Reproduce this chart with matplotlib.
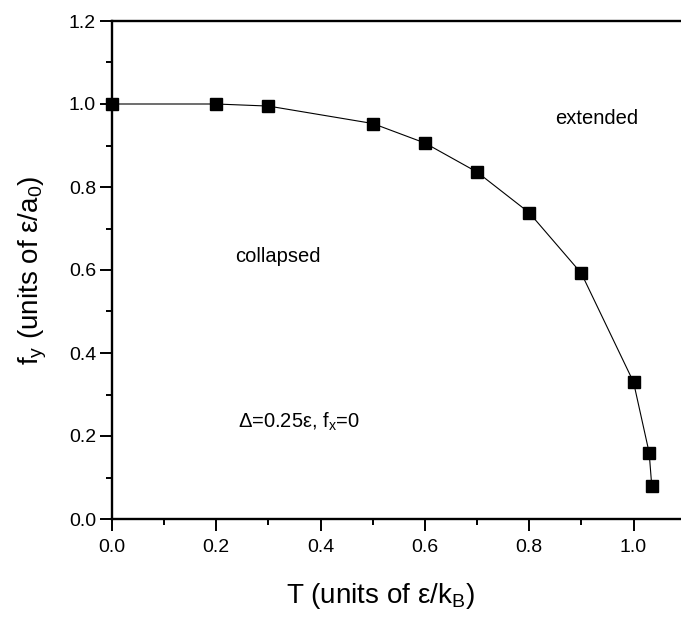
import matplotlib
matplotlib.use("Agg")
import matplotlib.pyplot as plt
from matplotlib.ticker import MultipleLocator

# data
temps = [0.0, 0.2, 0.3, 0.5, 0.6, 0.7, 0.8, 0.9, 1.0, 1.03, 1.035]
fy = [1.0, 1.0, 0.995, 0.953, 0.906, 0.836, 0.738, 0.592, 0.330, 0.160, 0.080]

x_ticks = [0.0, 0.2, 0.4, 0.6, 0.8, 1.0]
y_ticks = [0.0, 0.2, 0.4, 0.6, 0.8, 1.0, 1.2]

plt.rcParams['font.family'] = ['Liberation Sans', 'DejaVu Sans']
plt.rcParams['mathtext.fontset'] = 'custom'
plt.rcParams['mathtext.rm'] = 'Liberation Sans'
plt.rcParams['mathtext.it'] = 'Liberation Sans:italic'

fig = plt.figure(figsize=(6.81, 6.2), dpi=100)
# axes runs slightly past the right edge of the figure, like the original
ax = fig.add_axes([112 / 681, 1 - 519 / 620, 1.1 * 521.5 / 681, 498 / 620])

ax.plot(temps, fy, color='black', lw=0.8, marker='s', ms=9,
        mfc='black', mec='black', clip_on=False, zorder=3)

ax.set_xlim(0, 1.1)
ax.set_ylim(0, 1.2)
ax.set_xticks(x_ticks)
ax.set_yticks(y_ticks)
ax.set_xticklabels([f"{v:.1f}" for v in x_ticks])
ax.set_yticklabels([f"{v:.1f}" for v in y_ticks])
ax.xaxis.set_minor_locator(MultipleLocator(0.1))
ax.yaxis.set_minor_locator(MultipleLocator(0.1))

ax.tick_params(which='major', direction='out', length=8.5, width=1.4, labelsize=14)
ax.tick_params(which='minor', direction='out', length=4.5, width=1.4)
ax.tick_params(axis='x', which='major', pad=6)
ax.tick_params(axis='y', which='major', pad=3)
ax.tick_params(top=False, right=False, which='both')

for side in ['left', 'bottom', 'top', 'right']:
    ax.spines[side].set_linewidth(1.7)

ax.set_xlabel('T (units of ε/k$_\\mathrm{B}$)', fontsize=20)
ax.set_ylabel('f$_\\mathrm{y}$ (units of ε/a$_\\mathrm{0}$)', fontsize=20)
ax.xaxis.set_label_coords(0.467, -0.125)
ax.yaxis.set_label_coords(-0.11, 0.5)

ax.text(0.849, 0.964, 'extended', fontsize=14.5, va='center', ha='left')
ax.text(0.236, 0.632, 'collapsed', fontsize=14.5, va='center', ha='left')
ax.text(0.241, 0.234, 'Δ=0.25ε, f$_\\mathrm{x}$=0', fontsize=14.5, va='center', ha='left')

fig.savefig('out.png', dpi=100)
